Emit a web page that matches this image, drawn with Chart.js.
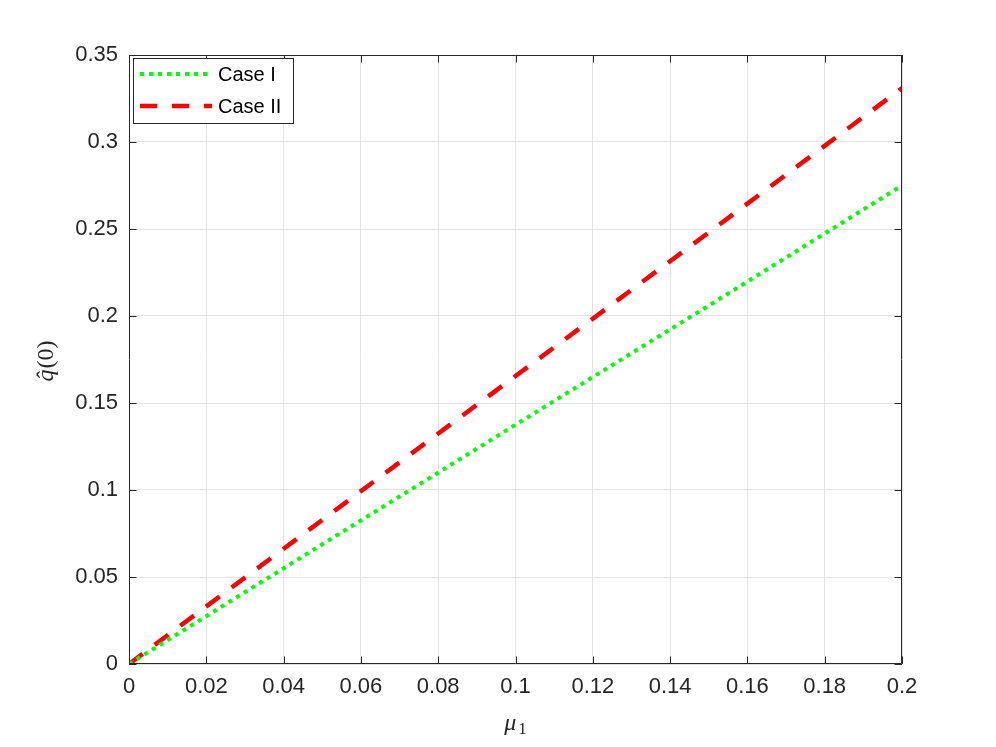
<!DOCTYPE html>
<html>
<head>
<meta charset="utf-8">
<script src="https://cdn.jsdelivr.net/npm/chart.js@4.4.1/dist/chart.umd.min.js"></script>
<style>
  html, body { margin: 0; padding: 0; background: #ffffff; }
  #wrap { width: 996px; height: 747px; position: relative; }
</style>
</head>
<body>
<div id="wrap"><canvas id="c" width="996" height="747"></canvas></div>
<script>
// ---- data ----
const muValues = [0, 0.05, 0.1, 0.15, 0.2];
const caseI = [0, 0.0688, 0.1375, 0.206, 0.275];
const caseII = [0, 0.0828, 0.1655, 0.248, 0.331];
const seriesLabels = ['Case I', 'Case II'];
const xTicks = [0, 0.02, 0.04, 0.06, 0.08, 0.1, 0.12, 0.14, 0.16, 0.18, 0.2];
const yTicks = [0, 0.05, 0.1, 0.15, 0.2, 0.25, 0.3, 0.35];
// axis titles: [italic part, upright part]
const xTitleParts = ['μ', '1'];
const yTitleParts = ['q̂', '(0)'];

const axisColor = '#262626';
const gridColor = '#e3e3e3';
const serif = '"Liberation Serif", "DejaVu Serif", serif';

const toPoints = (xs, ys) => xs.map((x, i) => ({ x: x, y: ys[i] }));

const boxPlugin = {
  id: 'matlabBox',
  afterDraw(chart) {
    const ctx = chart.ctx;
    const a = chart.chartArea;
    const xs = chart.scales.x, ys = chart.scales.y;
    const tl = 7.5;
    ctx.save();
    ctx.strokeStyle = axisColor;
    ctx.lineWidth = 1;
    ctx.beginPath();
    ctx.rect(Math.round(a.left) + 0.5, Math.round(a.top) + 0.5,
             Math.round(a.right - a.left) - 1, Math.round(a.bottom - a.top) - 1);
    ctx.stroke();
    ctx.beginPath();
    xTicks.forEach(v => {
      const px = Math.round(xs.getPixelForValue(v)) + 0.5;
      ctx.moveTo(px, a.bottom); ctx.lineTo(px, a.bottom - tl);
      ctx.moveTo(px, a.top); ctx.lineTo(px, a.top + tl);
    });
    yTicks.forEach(v => {
      const py = Math.round(ys.getPixelForValue(v)) + 0.5;
      ctx.moveTo(a.left, py); ctx.lineTo(a.left + tl, py);
      ctx.moveTo(a.right, py); ctx.lineTo(a.right - tl, py);
    });
    ctx.stroke();

    // axis titles (italic symbol + upright part, LaTeX-like)
    ctx.fillStyle = axisColor;
    ctx.textBaseline = 'alphabetic';
    ctx.textAlign = 'left';
    // x title: mu_1
    const xMid = (a.left + a.right) / 2;
    ctx.font = 'italic 24px ' + serif;
    const muW = ctx.measureText(xTitleParts[0]).width;
    ctx.font = '17px ' + serif;
    const subW = ctx.measureText(xTitleParts[1]).width;
    const xStart = xMid - (muW + 2 + subW) / 2;
    ctx.font = 'italic 24px ' + serif;
    ctx.fillText(xTitleParts[0], xStart, 730);
    ctx.font = '17px ' + serif;
    ctx.fillText(xTitleParts[1], xStart + muW + 2, 734);

    // y title: q-hat(0), rotated
    const yMid = (a.top + a.bottom) / 2;
    ctx.font = 'italic 24px ' + serif;
    const qW = ctx.measureText(yTitleParts[0]).width;
    ctx.font = '24px ' + serif;
    const pW = ctx.measureText(yTitleParts[1]).width;
    ctx.save();
    ctx.translate(53, yMid + (qW + pW) / 2 + 2);
    ctx.rotate(-Math.PI / 2);
    ctx.font = 'italic 24px ' + serif;
    ctx.fillText(yTitleParts[0], 0, 0);
    ctx.font = '24px ' + serif;
    ctx.fillText(yTitleParts[1], qW + 1, 0);
    ctx.restore();

    // legend box (MATLAB style, inside the axes, top-left)
    const lx = 133.5, ly = 58.5, lw = 160, lh = 65;
    ctx.fillStyle = '#ffffff';
    ctx.fillRect(lx, ly, lw, lh);
    ctx.strokeStyle = axisColor;
    ctx.lineWidth = 1;
    ctx.strokeRect(lx, ly, lw, lh);
    ctx.font = '20px "Liberation Sans", Arial, sans-serif';
    ctx.textBaseline = 'middle';
    ctx.textAlign = 'left';
    chart.data.datasets.forEach((ds, i) => {
      const y = 74 + i * 32;
      ctx.beginPath();
      ctx.strokeStyle = ds.borderColor;
      ctx.lineWidth = ds.borderWidth;
      ctx.setLineDash(ds.borderDash || []);
      ctx.moveTo(140, y); ctx.lineTo(212, y);
      ctx.stroke();
      ctx.setLineDash([]);
      ctx.fillStyle = '#000000';
      ctx.fillText(ds.label, 218, y + 1);
    });
    ctx.restore();
  }
};

new Chart(document.getElementById('c'), {
  type: 'line',
  data: {
    datasets: [
      {
        label: seriesLabels[0],
        data: toPoints(muValues, caseI),
        borderColor: '#00ff00',
        borderWidth: 4,
        borderDash: [4, 5],
        pointRadius: 0,
        fill: false,
        tension: 0
      },
      {
        label: seriesLabels[1],
        data: toPoints(muValues, caseII),
        borderColor: '#ff0000',
        borderWidth: 4.5,
        borderDash: [17, 15],
        pointRadius: 0,
        fill: false,
        tension: 0
      }
    ]
  },
  options: {
    responsive: false,
    animation: false,
    devicePixelRatio: 1,
    layout: { padding: { top: 55, right: 94, left: 0, bottom: 0 } },
    plugins: {
      legend: { display: false },
      tooltip: { enabled: false }
    },
    scales: {
      x: {
        type: 'linear',
        min: 0, max: 0.2,
        afterBuildTicks(scale) { scale.ticks = xTicks.map(v => ({ value: v })); },
        afterFit(scale) { scale.height = 83; },
        ticks: {
          color: axisColor,
          font: { family: '"Liberation Sans", Arial, sans-serif', size: 22 },
          padding: 10,
          maxRotation: 0,
          autoSkip: false,
          callback: v => String(+v.toFixed(2))
        },
        grid: { color: gridColor, drawTicks: false },
        border: { display: false },
        title: { display: false }
      },
      y: {
        type: 'linear',
        min: 0, max: 0.35,
        afterBuildTicks(scale) { scale.ticks = yTicks.map(v => ({ value: v })); },
        afterFit(scale) { scale.width = 129; },
        ticks: {
          color: axisColor,
          font: { family: '"Liberation Sans", Arial, sans-serif', size: 22 },
          padding: 11,
          autoSkip: false,
          callback: v => String(+v.toFixed(2))
        },
        grid: { color: gridColor, drawTicks: false },
        border: { display: false },
        title: { display: false }
      }
    }
  },
  plugins: [boxPlugin]
});
</script>
</body>
</html>
